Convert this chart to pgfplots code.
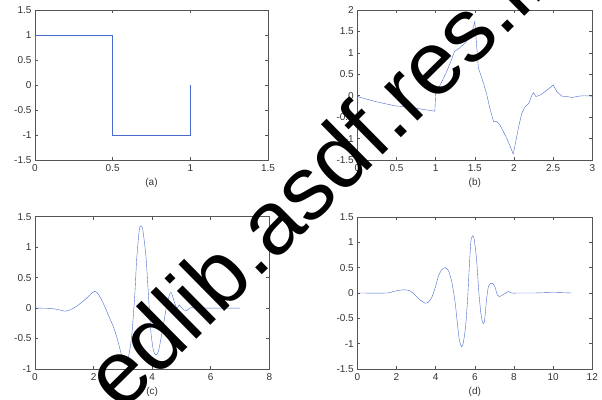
\documentclass[border=0pt]{standalone}
\usepackage{fontspec}
\setmainfont{Liberation Sans}
\usepackage{pgfplots}
\pgfplotsset{compat=1.18}
\definecolor{ml}{RGB}{72,108,205}
\definecolor{axc}{RGB}{85,85,85}
\pgfplotsset{
  wv/.style={
    scale only axis, anchor=south west,
    axis line style={axc, line width=0.6pt},
    tick style={axc, line width=0.5pt},
    major tick length=3pt, tick align=inside,
    ticklabel style={font=\fontsize{10}{12}\selectfont, text=black!80},
    /pgf/number format/assume math mode=true,
    xticklabel style={yshift=-1pt},
    xlabel style={font=\fontsize{10}{12}\selectfont, text=black!80, at={(axis description cs:0.5,0)}, anchor=center, yshift=-23pt},
    cycle list={{ml, line width=0.7pt, mark=none}},
  }
}
\begin{document}
\begin{tikzpicture}[x=1pt,y=1pt]
\useasboundingbox (0,0) rectangle (602,399);
% (a)
\begin{axis}[wv, at={(35pt,239pt)}, width=233pt, height=150pt,
  xmin=0, xmax=1.5, ymin=-1.5, ymax=1.5,
  xtick={0,0.5,1,1.5}, ytick={-1.5,-1,-0.5,0,0.5,1,1.5}, xlabel={(a)}]
\addplot coordinates {(0,0) (0,1) (0.5,1) (0.5,-1) (1,-1) (1,0)};
\end{axis}
% (b)
\begin{axis}[wv, at={(357.3pt,239pt)}, width=235pt, height=150pt,
  xmin=0, xmax=3, ymin=-1.5, ymax=2,
  xtick={0,0.5,1,1.5,2,2.5,3}, ytick={-1.5,-1,-0.5,0,0.5,1,1.5,2}, xlabel={(b)}]
\addplot coordinates {
(0,0) (0.02,-0.03) (0.24,-0.14) (0.49,-0.24) (0.66,-0.26) (0.84,-0.32) (0.99,-0.36)
(1.0,0.05) (1.08,0.33) (1.14,0.56) (1.2,0.83) (1.24,1.03) (1.31,1.12) (1.39,1.26) (1.46,1.46) (1.5,1.73)
(1.525,1.14) (1.545,0.65) (1.61,0.3) (1.65,0.05) (1.69,-0.28) (1.74,-0.61) (1.78,-0.6) (1.82,-0.68)
(1.91,-1.0) (1.99,-1.36) (2.01,-1.19) (2.06,-0.72) (2.1,-0.41) (2.14,-0.26) (2.19,-0.18) (2.23,0.02)
(2.25,0.07) (2.28,-0.02) (2.34,0.02) (2.42,0.13) (2.49,0.23) (2.5,0.25) (2.55,0.09) (2.61,-0.01)
(2.68,-0.02) (2.74,-0.04) (2.83,-0.01) (2.89,0) (3,-0.01)};
\end{axis}
% (c)
\begin{axis}[wv, at={(35pt,30pt)}, width=234.3pt, height=152.3pt,
  xmin=0, xmax=8, ymin=-1, ymax=1.5,
  xtick={0,2,4,6,8}, ytick={-1,-0.5,0,0.5,1,1.5}, xlabel={(c)}]
\addplot+[smooth, tension=0.4] coordinates {
(0,0) (0.51,-0.005) (0.74,-0.02) (1.02,-0.05) (1.19,-0.03) (1.42,0.03) (1.71,0.14) (1.93,0.24)
(2.05,0.275) (2.16,0.23) (2.33,0.08) (2.5,-0.11) (2.67,-0.3) (2.79,-0.47) (2.96,-0.78) (3.06,-0.92)
(3.19,-0.8) (3.3,-0.47) (3.41,0.24) (3.47,0.79) (3.56,1.28) (3.61,1.35) (3.68,1.29) (3.79,0.84)
(3.87,0.24) (3.95,-0.36) (4.04,-0.69) (4.12,-0.77) (4.21,-0.72) (4.32,-0.45) (4.49,0.02) (4.6,0.23)
(4.66,0.25) (4.74,0.13) (4.84,0) (4.93,0.05) (5.0,0.01) (5.08,-0.03) (5.18,-0.04) (5.29,0)
(5.35,0.01) (5.46,0) (6,0) (7,0)};
\end{axis}
% (d)
\begin{axis}[wv, at={(357.3pt,30pt)}, width=235pt, height=152pt,
  xmin=0, xmax=12, ymin=-1.5, ymax=1.5,
  xtick={0,2,4,6,8,10,12}, ytick={-1.5,-1,-0.5,0,0.5,1,1.5}, xlabel={(d)}]
\addplot+[smooth, tension=0.4] coordinates {
(0,0) (1.5,0) (1.84,0.03) (2.18,0.056) (2.43,0.063) (2.69,0.043) (2.94,-0.036) (3.2,-0.135)
(3.46,-0.2) (3.63,-0.18) (3.8,-0.09) (3.97,0.096) (4.14,0.33) (4.31,0.46) (4.48,0.5) (4.65,0.445)
(4.82,0.23) (4.99,-0.17) (5.11,-0.6) (5.21,-0.93) (5.33,-1.06) (5.41,-0.99) (5.53,-0.66) (5.63,-0.14)
(5.72,0.52) (5.8,1.02) (5.89,1.13) (5.97,1.06) (6.09,0.66) (6.21,0) (6.31,-0.4) (6.4,-0.58)
(6.49,-0.57) (6.6,-0.13) (6.69,0.12) (6.81,0.19) (6.91,0.19) (7.03,0.12) (7.15,-0.04) (7.25,-0.07)
(7.42,-0.04) (7.63,0.01) (7.71,0.03) (7.88,0) (8.3,0) (9,0) (10,0.01) (10.94,0)};
\end{axis}
\node[rotate=44.6, anchor=base west, inner sep=0pt, font=\fontsize{90}{90}\selectfont, text=black] at (121,-15) {edlib.asdf.res.in};
\end{tikzpicture}
\end{document}
